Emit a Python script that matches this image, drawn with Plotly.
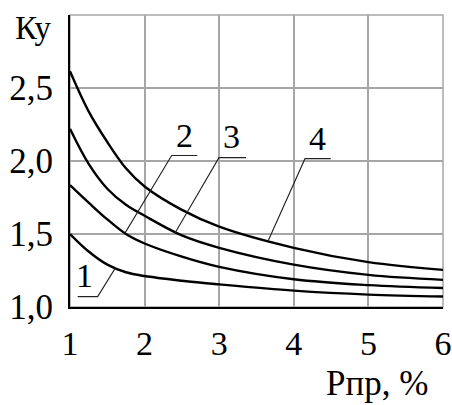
import plotly.graph_objects as go

# Data
x = [1, 1.25, 1.5, 1.75, 2, 2.5, 3, 4, 5, 6]
c1 = [1.50, 1.38, 1.29, 1.238, 1.212, 1.18, 1.155, 1.112, 1.085, 1.072]
c2 = [1.835, 1.715, 1.60, 1.50, 1.435, 1.345, 1.275, 1.19, 1.15, 1.13]
c3 = [2.22, 1.98, 1.81, 1.70, 1.625, 1.49, 1.405, 1.29, 1.22, 1.186]
c4 = [2.615, 2.34, 2.13, 1.95, 1.825, 1.665, 1.55, 1.405, 1.307, 1.254]
curves = [c1, c2, c3, c4]

x_ticks = [1, 2, 3, 4, 5, 6]
x_ticktext = ["1", "2", "3", "4", "5", "6"]
y_ticks = [1.0, 1.5, 2.0, 2.5, 3.0]
y_ticktext = ["1,0", "1,5", "2,0", "2,5", ""]

# curve labels and leader lines (data coords)
labels = ["1", "2", "3", "4"]
label_x = [1.20, 2.54, 3.17, 4.32]
label_y = [1.213, 2.176, 2.169, 2.155]
leader_x = [[1.103, 1.371, 1.607], [2.706, 2.363, 1.737], [3.359, 2.997, 2.408], [4.495, 4.150, 3.658]]
leader_y = [[1.071, 1.071, 1.266], [2.038, 2.038, 1.506], [2.023, 2.023, 1.507], [2.016, 2.016, 1.456]]

FONT = "Liberation Serif"

W, H = 452, 405
L, R, T, B = 70, 9, 15, 98
pw, ph = W - L - R, H - T - B

fig = go.Figure()
for c in curves:
    fig.add_trace(go.Scatter(x=x, y=c, mode="lines",
                             line=dict(color="black", width=2.4, shape="spline", smoothing=1.0),
                             showlegend=False, hoverinfo="skip"))
for lx, ly in zip(leader_x, leader_y):
    fig.add_trace(go.Scatter(x=lx, y=ly, mode="lines",
                             line=dict(color="#222222", width=1.1),
                             showlegend=False, hoverinfo="skip"))

annotations = []
for t, ax_, ay_ in zip(labels, label_x, label_y):
    annotations.append(dict(x=ax_, y=ay_, xref="x", yref="y", text=t, showarrow=False,
                            xanchor="center", yanchor="middle",
                            font=dict(family=FONT, size=34, color="black")))
# axis titles placed in pixel terms, converted to paper coords
annotations.append(dict(x=(33 - L) / pw, y=(H - B - 28) / ph, xref="paper", yref="paper",
                        text="Ку", showarrow=False, xanchor="center", yanchor="middle",
                        font=dict(family=FONT, size=33, color="black")))
annotations.append(dict(x=(377 - L) / pw, y=(H - B - 383) / ph, xref="paper", yref="paper",
                        text="Рпр, %", showarrow=False, xanchor="center", yanchor="middle",
                        font=dict(family=FONT, size=35, color="black")))

fig.update_layout(
    width=W, height=H,
    margin=dict(l=L, r=R, t=T, b=B, autoexpand=False),
    paper_bgcolor="white", plot_bgcolor="white",
    annotations=annotations,
    shapes=[dict(type="rect", xref="paper", yref="paper", x0=0, y0=0, x1=1, y1=1,
                 line=dict(color="#a6a6a6", width=1.5), layer="below")],
    xaxis=dict(range=[1, 6], tickvals=x_ticks, ticktext=x_ticktext, automargin=False,
               showgrid=True, gridcolor="#a6a6a6", gridwidth=1.5,
               showline=True, linecolor="black", linewidth=2, zeroline=False,
               ticks="", ticklabelstandoff=5,
               tickfont=dict(family=FONT, size=34, color="black")),
    yaxis=dict(range=[1, 3], tickvals=y_ticks, ticktext=y_ticktext, automargin=False,
               showgrid=True, gridcolor="#a6a6a6", gridwidth=1.5,
               showline=True, linecolor="black", linewidth=2, zeroline=False,
               ticks="", ticklabelstandoff=8,
               tickfont=dict(family=FONT, size=35, color="black")),
)

fig.write_html("out.html", config={"displayModeBar": False},
               post_script="document.body.style.margin='0';")
